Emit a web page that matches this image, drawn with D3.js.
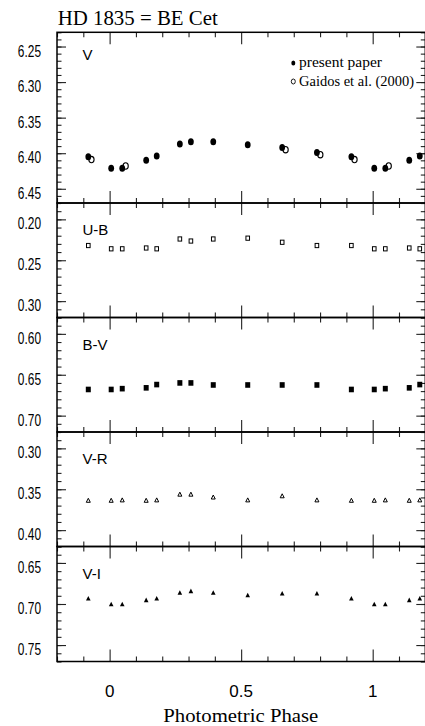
<!DOCTYPE html>
<meta charset="utf-8">
<title>HD 1835 = BE Cet</title>
<style>
body { margin: 0; background: #fff; }
svg { display: block; }
.tick line { stroke: #222; stroke-width: 1.1; }
.frame { fill: none; stroke: #000; stroke-width: 1.5; }
.num { font-family: "Liberation Sans", Arial, sans-serif; font-size: 16px; fill: #000; }
.serif { font-family: "Liberation Serif", "DejaVu Serif", serif; fill: #000; }
</style>
<body>
<script src="https://d3js.org/d3.v7.min.js"></script>
<script>

// photometric phases of our observations
var phase = [0.006, 0.048, 0.139, 0.179, 0.267, 0.309, 0.394, 0.525, 0.656, 0.788, 0.919];
var vMag  = [6.421, 6.421, 6.410, 6.404, 6.387, 6.384, 6.384, 6.388, 6.392, 6.399, 6.405];
var ubCol = [0.236, 0.236, 0.235, 0.236, 0.224, 0.2265, 0.224, 0.223, 0.228, 0.232, 0.232];
var bvCol = [0.668, 0.667, 0.666, 0.662, 0.660, 0.660, 0.6625, 0.6625, 0.6625, 0.6625, 0.668];
var vrCol = [0.3635, 0.363, 0.3635, 0.363, 0.356, 0.356, 0.3595, 0.363, 0.358, 0.363, 0.3635];
var viCol = [0.700, 0.700, 0.695, 0.693, 0.686, 0.684, 0.686, 0.689, 0.687, 0.687, 0.693];

// Gaidos et al. (2000)
var gaidosPhase = [0.061, 0.669, 0.801, 0.931];
var gaidosV     = [6.418, 6.395, 6.402, 6.409];

var vTicks  = [6.25, 6.30, 6.35, 6.40, 6.45];
var ubTicks = [0.20, 0.25, 0.30];
var bvTicks = [0.60, 0.65, 0.70];
var vrTicks = [0.30, 0.35, 0.40];
var viTicks = [0.65, 0.70, 0.75];
var phaseTicks = [0, 0.5, 1];

var width = 425, height = 726;
var left = 57, right = 425.3;

var svg = d3.select("body").append("svg")
    .attr("width", width)
    .attr("height", height);

var x = d3.scaleLinear().domain([-0.2, 1.2]).range([left, right]);

// repeat a point one cycle either side when it falls inside the plotted range
function wrap(ph, val) {
  var out = [];
  ph.forEach(function(p, i) {
    [-1, 0, 1].forEach(function(k) {
      var q = p + k;
      if (q > -0.19 && q < 1.19) out.push({p: q, v: val[i]});
    });
  });
  return out;
}

var panels = [
  {name: "V",   top: 32.3,  bottom: 203,   domain: [6.23, 6.47], ticks: vTicks},
  {name: "U-B", top: 203,   bottom: 317.5, domain: [0.18, 0.32], ticks: ubTicks},
  {name: "B-V", top: 317.5, bottom: 432,   domain: [0.58, 0.72], ticks: bvTicks},
  {name: "V-R", top: 432,   bottom: 546.5, domain: [0.28, 0.42], ticks: vrTicks},
  {name: "V-I", top: 546.5, bottom: 661.5, domain: [0.63, 0.77], ticks: viTicks}
];

var xMinor = d3.range(-2, 13).map(function(d) { return d / 10; })
    .filter(function(d) { return phaseTicks.indexOf(d) < 0; });

panels.forEach(function(pn, idx) {
  var g = svg.append("g");
  var y = d3.scaleLinear().domain(pn.domain).range([pn.top, pn.bottom]);
  pn.y = y;
  var minor = d3.range(Math.round(pn.domain[0] * 100), Math.round(pn.domain[1] * 100) + 1)
      .map(function(d) { return d / 100; });

  // y ticks left and right, pointing inward
  g.append("g").attr("transform", "translate(" + left + ",0)")
      .call(d3.axisRight(y).tickValues(minor).tickSize(4.5).tickFormat(""));
  g.append("g").attr("transform", "translate(" + left + ",0)")
      .call(d3.axisRight(y).tickValues(pn.ticks).tickSize(9).tickFormat(""));
  g.append("g").attr("transform", "translate(" + right + ",0)")
      .call(d3.axisLeft(y).tickValues(minor).tickSize(4.5).tickFormat(""));
  g.append("g").attr("transform", "translate(" + right + ",0)")
      .call(d3.axisLeft(y).tickValues(pn.ticks).tickSize(9).tickFormat(""));

  // x ticks top and bottom
  g.append("g").attr("transform", "translate(0," + pn.top + ")")
      .call(d3.axisBottom(x).tickValues(xMinor).tickSize(5).tickFormat(""));
  g.append("g").attr("transform", "translate(0," + pn.top + ")")
      .call(d3.axisBottom(x).tickValues(phaseTicks).tickSize(12).tickFormat(""));
  g.append("g").attr("transform", "translate(0," + pn.bottom + ")")
      .call(d3.axisTop(x).tickValues(xMinor).tickSize(5).tickFormat(""));
  g.append("g").attr("transform", "translate(0," + pn.bottom + ")")
      .call(d3.axisTop(x).tickValues(phaseTicks).tickSize(12).tickFormat(""));

  g.selectAll(".domain").remove();

  g.append("rect").attr("class", "frame")
      .attr("x", left).attr("y", pn.top)
      .attr("width", right - left).attr("height", pn.bottom - pn.top);

  // y labels (narrow)
  g.selectAll(".ylab").data(pn.ticks).enter().append("text")
      .attr("class", "num")
      .style("font-size", "17px")
      .attr("text-anchor", "end")
      .attr("transform", function(d) { return "translate(41," + (y(d) + 10) + ") scale(0.7,1)"; })
      .text(d3.format(".2f"));

  g.append("text").attr("class", "num")
      .attr("x", 82.5).attr("y", pn.top + (idx === 0 ? 28 : 32))
      .style("font-size", "15px")
      .text(pn.name);
});

// bottom phase labels
svg.selectAll(".xlab").data(phaseTicks).enter().append("text")
    .attr("class", "num")
    .style("font-size", "17px")
    .attr("text-anchor", "middle")
    .attr("x", function(d) { return x(d); })
    .attr("y", 697)
    .text(function(d) { return d; });

// markers
var yV = panels[0].y, yUB = panels[1].y, yBV = panels[2].y, yVR = panels[3].y, yVI = panels[4].y;

svg.append("g").selectAll("ellipse").data(wrap(gaidosPhase, gaidosV)).enter().append("ellipse")
    .attr("cx", function(d) { return x(d.p); })
    .attr("cy", function(d) { return yV(d.v); })
    .attr("rx", 2.6).attr("ry", 3.2)
    .attr("fill", "none").attr("stroke", "#000").attr("stroke-width", 1.1);

svg.append("g").selectAll("ellipse").data(wrap(phase, vMag)).enter().append("ellipse")
    .attr("cx", function(d) { return x(d.p); })
    .attr("cy", function(d) { return yV(d.v); })
    .attr("rx", 2.9).attr("ry", 3.5)
    .attr("fill", "#000");

svg.append("g").selectAll("rect").data(wrap(phase, ubCol)).enter().append("rect")
    .attr("x", function(d) { return x(d.p) - 1.8; })
    .attr("y", function(d) { return yUB(d.v) - 2.1; })
    .attr("width", 3.6).attr("height", 4.2)
    .attr("fill", "none").attr("stroke", "#000").attr("stroke-width", 1);

svg.append("g").selectAll("rect").data(wrap(phase, bvCol)).enter().append("rect")
    .attr("x", function(d) { return x(d.p) - 2.5; })
    .attr("y", function(d) { return yBV(d.v) - 2.8; })
    .attr("width", 5).attr("height", 5.6)
    .attr("fill", "#000");

var tri = function(w, h) {
  return "M0," + (-h / 2) + "L" + (w / 2) + "," + (h / 2) + "L" + (-w / 2) + "," + (h / 2) + "Z";
};

svg.append("g").selectAll("path").data(wrap(phase, vrCol)).enter().append("path")
    .attr("transform", function(d) { return "translate(" + x(d.p) + "," + yVR(d.v) + ")"; })
    .attr("d", tri(4, 4))
    .attr("fill", "none").attr("stroke", "#000").attr("stroke-width", 1);

svg.append("g").selectAll("path").data(wrap(phase, viCol)).enter().append("path")
    .attr("transform", function(d) { return "translate(" + x(d.p) + "," + yVI(d.v) + ")"; })
    .attr("d", tri(4.6, 4.6))
    .attr("fill", "#000");

// legend
svg.append("ellipse").attr("cx", 293.3).attr("cy", 63).attr("rx", 2).attr("ry", 2.5).attr("fill", "#000");
svg.append("ellipse").attr("cx", 293.3).attr("cy", 81.5).attr("rx", 2).attr("ry", 2.5)
    .attr("fill", "none").attr("stroke", "#000").attr("stroke-width", 0.9);
svg.append("text").attr("class", "serif").attr("x", 299).attr("y", 66.5)
    .style("font-size", "14px")
    .attr("textLength", 83).attr("lengthAdjust", "spacingAndGlyphs")
    .text("present paper");
svg.append("text").attr("class", "serif").attr("x", 299).attr("y", 85.5)
    .style("font-size", "14px")
    .attr("textLength", 115).attr("lengthAdjust", "spacingAndGlyphs")
    .text("Gaidos et al. (2000)");

// titles
svg.append("text").attr("class", "serif").attr("x", 57.7).attr("y", 25)
    .style("font-size", "21px")
    .attr("textLength", 160).attr("lengthAdjust", "spacingAndGlyphs")
    .text("HD 1835 = BE Cet");
svg.append("text").attr("class", "serif").attr("x", 163.3).attr("y", 721.5)
    .style("font-size", "19px")
    .attr("textLength", 155).attr("lengthAdjust", "spacingAndGlyphs")
    .text("Photometric Phase");

</script>
</body>
